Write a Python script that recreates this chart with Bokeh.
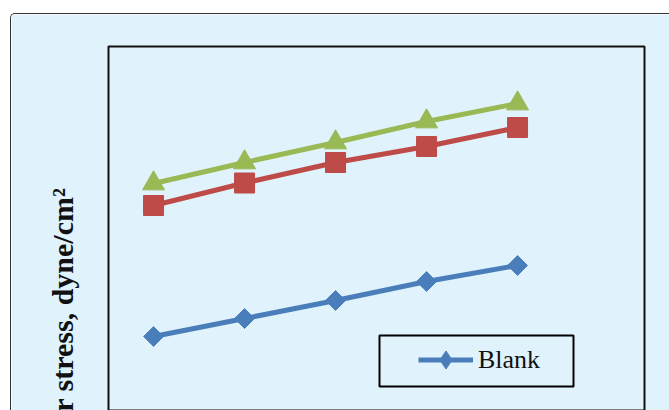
import math
from bokeh.plotting import figure
from bokeh.models import Title, Legend, LegendItem, BoxAnnotation, Range1d
from bokeh.embed import file_html
from bokeh.resources import INLINE

# data
x_vals = [1, 2, 3, 4, 5]
blank = [75, 93, 111, 130, 146]
series_red = [206, 228.5, 249, 265, 284]
series_green = [228, 249, 269, 290, 308]
y_title = "Shear stress, dyne/cm²"
legend_label = "Blank"

BG = "#E0F2FC"
BLUE = "#4A7EBB"
RED = "#BE4B48"
GREEN = "#98B954"

p = figure(width=659, height=397, output_backend="svg", toolbar_location=None,
           x_range=Range1d(0.505, 6.395), y_range=Range1d(0, 365),
           min_border_left=97, min_border_right=26, min_border_top=32, min_border_bottom=0)
p.margin = (13, 0, 0, 10)
p.styles = {"border-top": "1.5px solid #333", "border-left": "1.5px solid #333",
            "border-top-left-radius": "5px", "box-sizing": "border-box"}
p.background_fill_color = BG
p.border_fill_color = BG
p.outline_line_color = "#111111"
p.outline_line_width = 2
p.xaxis.visible = False
p.yaxis.visible = False
p.xgrid.visible = False
p.ygrid.visible = False

lb = p.line(x_vals, blank, line_color=BLUE, line_width=5)
# diamond used for the legend key; hidden beneath the plotted markers
key_marker = p.scatter(x_vals, blank, marker="diamond", size=14, fill_color=BLUE, line_color=BLUE)
sb = p.scatter(x_vals, blank, marker="square", angle=math.pi / 4, size=14,
               fill_color=BLUE, line_color=BLUE)
p.line(x_vals, series_red, line_color=RED, line_width=5)
p.scatter(x_vals, series_red, marker="square", size=20, fill_color=RED, line_color=RED)
p.line(x_vals, series_green, line_color=GREEN, line_width=5)
p.scatter(x_vals, series_green, marker="triangle", size=22, fill_color=GREEN, line_color=GREEN)

legend = Legend(items=[LegendItem(label=legend_label, renderers=[lb, key_marker])],
                location=(310, 29), border_line_color=None, background_fill_alpha=0,
                glyph_width=55, glyph_height=45, label_standoff=5, padding=0, margin=0,
                label_text_font="Liberation Serif", label_text_font_size="26px",
                label_text_color="#111111")
p.add_layout(legend, "center")

box = BoxAnnotation(left=271, right=465, top=76, bottom=25,
                    left_units="screen", right_units="screen",
                    top_units="screen", bottom_units="screen",
                    fill_alpha=0, line_color="#000000", line_alpha=1.0, line_width=2)
p.add_layout(box)

t = Title(text=y_title, align="right", offset=141, standoff=60,
          text_font="Liberation Serif", text_font_style="bold",
          text_font_size="30px", text_color="#111111")
p.add_layout(t, "left")

open("out.html", "w").write(file_html(p, INLINE))
